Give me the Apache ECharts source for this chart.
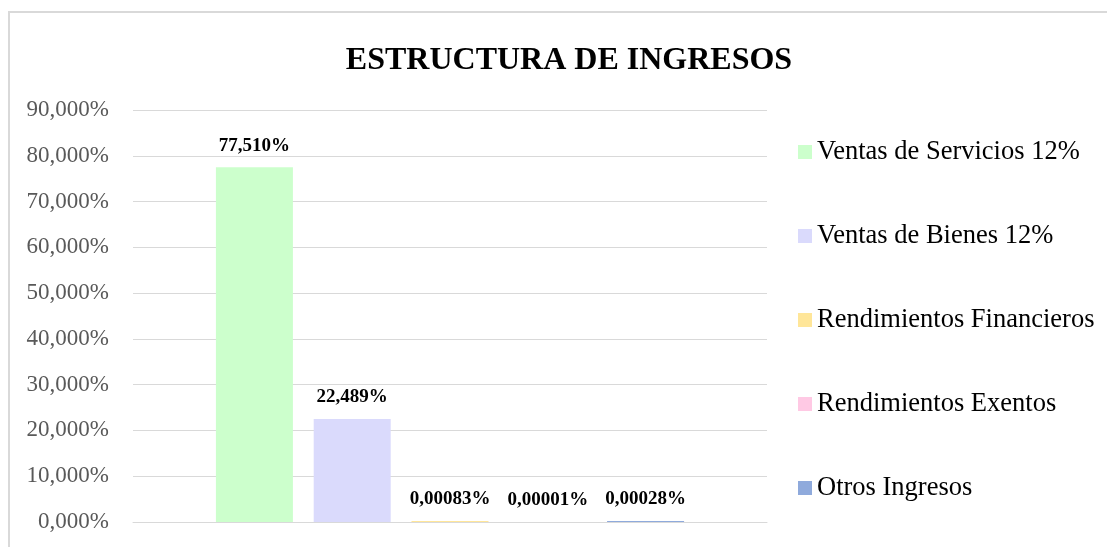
<!DOCTYPE html>
<html>
<head>
<meta charset="utf-8">
<script src="https://cdn.jsdelivr.net/npm/echarts@6/dist/echarts.min.js"></script>
<style>
html,body{margin:0;padding:0;background:#fff;}
#chart{width:1107px;height:547px;}
</style>
</head>
<body>
<div id="chart"></div>
<script>
const titleText = 'ESTRUCTURA DE INGRESOS';
const categories = [''];
const seriesNames = ['Ventas de Servicios 12%', 'Ventas de Bienes 12%', 'Rendimientos Financieros', 'Rendimientos Exentos', 'Otros Ingresos'];
const seriesValues = [77.510, 22.489, 0.00083, 0.00001, 0.00028];
const labelDecimals = [3, 3, 5, 5, 5];
const seriesColors = ['#CCFFCC', '#DADAFC', '#FFE699', '#FFC9E4', '#8FAADC'];
const yTicks = { min: 0, max: 90, interval: 10 };

const FONT = "'Liberation Serif', 'Times New Roman', serif";
const fmt = (v, d) => v.toFixed(d).replace('.', ',') + '%';

const chart = echarts.init(document.getElementById('chart'));
chart.setOption({
  animation: false,
  backgroundColor: '#fff',
  title: {
    text: titleText,
    left: 564,
    top: 40,
    textAlign: 'center',
    textStyle: { fontFamily: FONT, fontSize: 32, fontWeight: 'bold', color: '#000' }
  },
  graphic: [{
    type: 'rect',
    shape: { x: 9, y: 12, width: 1300, height: 700 },
    style: { fill: 'none', stroke: '#d9d9d9', lineWidth: 2 },
    silent: true
  }],
  legend: {
    orient: 'vertical',
    left: 798,
    top: 137,
    padding: 0,
    itemWidth: 14,
    itemHeight: 14,
    itemGap: 54,
    icon: 'rect',
    data: seriesNames,
    textStyle: { fontFamily: FONT, fontSize: 26.5, color: '#000', lineHeight: 30 }
  },
  grid: { left: 133, right: 340, top: 110, bottom: 25, containLabel: false },
  xAxis: {
    type: 'category',
    data: categories,
    axisLine: { lineStyle: { color: '#d9d9d9', width: 1 } },
    axisTick: { show: false },
    axisLabel: { show: false }
  },
  yAxis: {
    type: 'value',
    min: yTicks.min,
    max: yTicks.max,
    interval: yTicks.interval,
    axisLine: { show: false },
    axisTick: { show: false },
    splitLine: { lineStyle: { color: '#d9d9d9', width: 1 } },
    axisLabel: {
      margin: 24,
      fontFamily: FONT,
      fontSize: 23,
      color: '#595959',
      formatter: v => fmt(v, 3)
    }
  },
  series: seriesNames.map((name, i) => ({
    name: name,
    type: 'bar',
    data: [seriesValues[i]],
    barWidth: 77,
    barGap: '27%',
    barMinHeight: (i === 2 || i === 4) ? 1 : 0,
    itemStyle: { color: seriesColors[i] },
    label: {
      show: true,
      position: 'top',
      distance: 12,
      fontFamily: FONT,
      fontSize: 19,
      fontWeight: 'bold',
      color: '#000',
      formatter: p => fmt(p.value, labelDecimals[i])
    }
  }))
});
</script>
</body>
</html>
